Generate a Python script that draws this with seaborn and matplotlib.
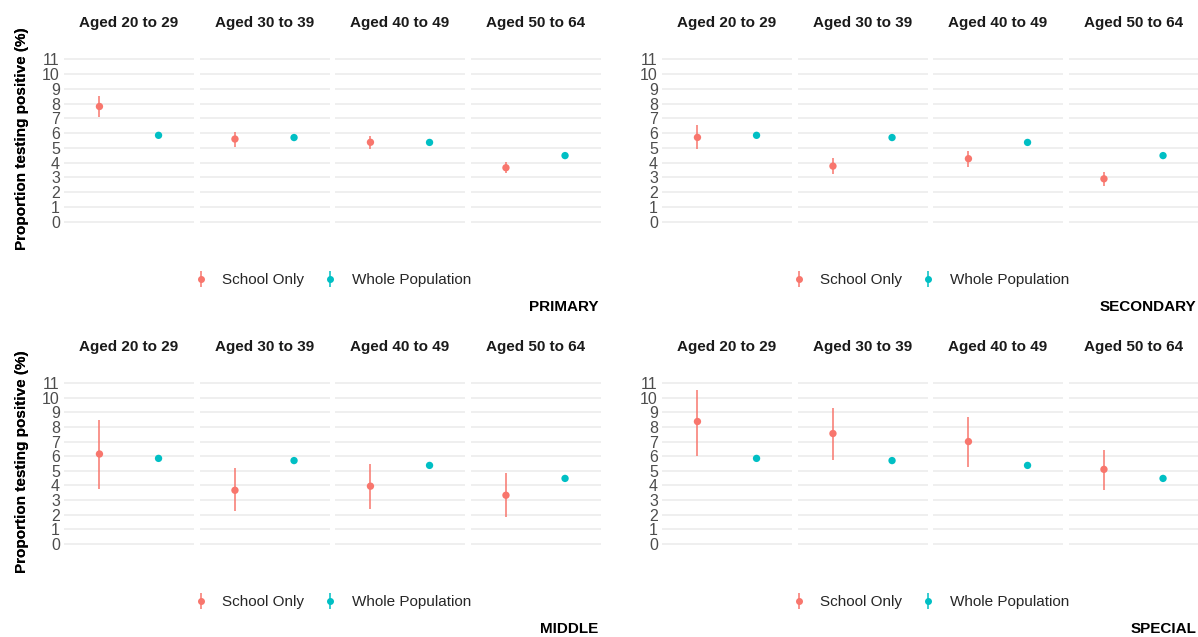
import matplotlib.pyplot as plt
import pandas as pd
import seaborn as sns
from matplotlib.lines import Line2D

# values
age_groups = ["Aged 20 to 29", "Aged 30 to 39", "Aged 40 to 49", "Aged 50 to 64"]
school_types = ["PRIMARY", "SECONDARY", "MIDDLE", "SPECIAL"]
groups = ["School Only", "Whole Population"]

whole_pop = [5.85, 5.70, 5.37, 4.48]

primary_est = [7.80, 5.60, 5.38, 3.66]
primary_lo = [7.07, 5.08, 4.92, 3.28]
primary_hi = [8.52, 6.10, 5.80, 4.02]

secondary_est = [5.71, 3.77, 4.27, 2.91]
secondary_lo = [4.90, 3.23, 3.70, 2.44]
secondary_hi = [6.55, 4.31, 4.81, 3.34]

middle_est = [6.15, 3.67, 3.95, 3.33]
middle_lo = [3.79, 2.22, 2.40, 1.81]
middle_hi = [8.46, 5.17, 5.47, 4.85]

special_est = [8.37, 7.55, 7.00, 5.10]
special_lo = [6.03, 5.76, 5.28, 3.72]
special_hi = [10.50, 9.30, 8.71, 6.42]

school_data = {
    "PRIMARY": (primary_est, primary_lo, primary_hi),
    "SECONDARY": (secondary_est, secondary_lo, secondary_hi),
    "MIDDLE": (middle_est, middle_lo, middle_hi),
    "SPECIAL": (special_est, special_lo, special_hi),
}

rows = []
for st in school_types:
    est, lo, hi = school_data[st]
    for i, age in enumerate(age_groups):
        rows.append([st, age, "School Only", est[i], lo[i], hi[i]])
        rows.append([st, age, "Whole Population", whole_pop[i], whole_pop[i] - 0.06, whole_pop[i] + 0.06])
df = pd.DataFrame(rows, columns=["school", "age", "group", "est", "lo", "hi"])

palette = {"School Only": "#F8766D", "Whole Population": "#00BFC4"}

sns.set_theme(style="white")
plt.rcParams["font.family"] = ["Liberation Sans", "DejaVu Sans"]

W, H = 1198, 637
fig = plt.figure(figsize=(W / 100, H / 100), dpi=100)


def fx(px):
    return px / W


def fy(py):
    return 1 - py / H


# panel layout in pixels: (left of first facet, top of plot area, bottom of plot area)
layout = {
    "PRIMARY": (64, 51, 230),
    "SECONDARY": (662, 51, 230),
    "MIDDLE": (64, 375, 552),
    "SPECIAL": (662, 375, 552),
}
facet_w = 130
facet_gap = 5.5
fs = 11

for st in school_types:
    left, top, bottom = layout[st]
    for j, age in enumerate(age_groups):
        x0 = left + j * (facet_w + facet_gap)
        ax = fig.add_axes([fx(x0), fy(bottom), facet_w / W, (bottom - top) / H])
        sub = df[(df["school"] == st) & (df["age"] == age)]
        xpos = [groups.index(g) for g in sub["group"]]
        ax.vlines(xpos, sub["lo"], sub["hi"], colors=[palette[g] for g in sub["group"]], lw=1.1, zorder=2)
        sns.scatterplot(
            data=sub, x="group", y="est", hue="group", palette=palette,
            hue_order=groups, s=28, linewidth=0, legend=False, ax=ax, zorder=3,
        )
        ax.set_xlim(-0.6, 1.6)
        ax.set_ylim(-0.55, 11.55)
        ax.set_yticks(range(0, 12))
        ax.set_xticks([])
        ax.yaxis.grid(True, color="#EBEBEB", lw=1.1)
        ax.set_axisbelow(True)
        for s in ax.spines.values():
            s.set_visible(False)
        ax.set_xlabel("")
        ax.set_ylabel("")
        ax.tick_params(axis="y", length=0, pad=3, labelsize=11.5, labelcolor="#4D4D4D")
        if j > 0:
            ax.set_yticklabels([])
        fig.text(fx(x0 + facet_w / 2), fy(top - 28), age, ha="center", va="center",
                 fontsize=fs, fontweight="bold", color="#1A1A1A")

    # y-axis title
    fig.text(fx(22), fy((top + bottom) / 2 - 2), "Proportion testing positive (%)", rotation=90,
             ha="center", va="center", fontsize=fs, fontweight="bold", color="black")

    # legend under each panel
    handles = [
        (Line2D([], [], color=palette[g], marker="|", markersize=12, markeredgewidth=1.1, linestyle=""),
         Line2D([], [], color=palette[g], marker="o", markersize=4, linestyle=""))
        for g in groups
    ]
    span_right = left + 4 * facet_w + 3 * facet_gap
    fig.legend(handles, groups, loc="center", bbox_to_anchor=(fx((left + span_right) / 2), fy(bottom + 50)),
               ncol=2, frameon=False, fontsize=fs, handlelength=1.0, handletextpad=0.9,
               columnspacing=1.2, borderaxespad=0)

    # panel name at bottom right
    fig.text(fx(span_right - 2), fy(bottom + 77), st, ha="right", va="center",
             fontsize=fs, fontweight="bold", color="black")

plt.savefig("out.png", dpi=100)
